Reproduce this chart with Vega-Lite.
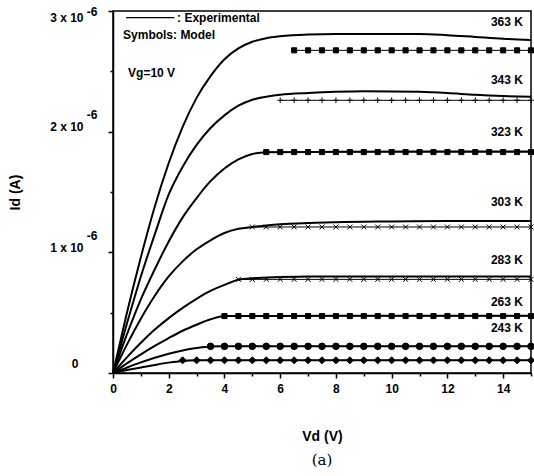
{
  "$schema": "https://vega.github.io/schema/vega-lite/v6.json",
  "width": 418,
  "height": 362,
  "autosize": {"type": "none"},
  "padding": {"left": 113, "top": 11, "right": 3, "bottom": 103},
  "background": "white",
  "config": {
    "view": {"stroke": "black", "strokeWidth": 1.5},
    "font": "Liberation Sans"
  },
  "title": {"text": "(a)", "orient": "bottom", "font": "DejaVu Serif", "fontSize": 15, "fontWeight": "normal", "color": "black", "offset": 10},
  "resolve": {"axis": {"y": "independent"}},
  "encoding": {
    "x": {
      "field": "Vd", "type": "quantitative",
      "scale": {"domain": [0, 15], "nice": false, "zero": false},
      "axis": {
        "title": "Vd (V)", "titleFont": "Liberation Sans", "titleFontSize": 14, "titleFontWeight": "bold", "titleColor": "black", "titlePadding": 35,
        "values": [0,1,2,3,4,5,6,7,8,9,10,11,12,13,14,15],
        "labelExpr": "datum.value % 2 == 0 ? datum.label : ''",
        "labelFont": "Liberation Sans", "labelFontSize": 12, "labelFontWeight": "bold", "labelColor": "black", "labelPadding": 5,
        "tickSize": {"condition": {"test": "datum.value % 2 == 1", "value": 3}, "value": 5},
        "tickColor": "black", "tickWidth": 1.5, "domainColor": "black", "domainWidth": 1.5, "grid": false, "labelFlush": false
      }
    }
  },
  "layer": [
    {
      "data": {"values": [{"Vd": 0.47, "Vd2": 2.2, "Id": 2.945}]},
      "mark": {"type": "rule", "color": "black", "strokeWidth": 1.3},
      "encoding": {
        "x2": {"field": "Vd2"},
        "y": {"field": "Id", "type": "quantitative", "scale": {"domain": [0, 3], "nice": false}, "axis": null}
      }
    },
    {
      "data": {"values": [
        {"Vd": 2.3, "Id": 2.94, "label": ": Experimental"},
        {"Vd": 0.36, "Id": 2.8, "label": "Symbols: Model"},
        {"Vd": 0.54, "Id": 2.49, "label": "Vg=10 V"}
      ]},
      "mark": {"type": "text", "align": "left", "baseline": "middle", "font": "Liberation Sans", "fontSize": 12, "fontWeight": "bold", "color": "black"},
      "encoding": {
        "text": {"field": "label"},
        "y": {"field": "Id", "type": "quantitative", "scale": {"domain": [0, 3], "nice": false}, "axis": null}
      }
    },
    {
      "data": {"values": [
        {"Vd": 14.71, "Id": 2.908, "label": "363 K"},
        {"Vd": 14.71, "Id": 2.425, "label": "343 K"},
        {"Vd": 14.71, "Id": 2.0, "label": "323 K"},
        {"Vd": 14.71, "Id": 1.417, "label": "303 K"},
        {"Vd": 14.71, "Id": 0.934, "label": "283 K"},
        {"Vd": 14.71, "Id": 0.588, "label": "263 K"},
        {"Vd": 14.71, "Id": 0.37, "label": "243 K"}
      ]},
      "mark": {"type": "text", "align": "right", "baseline": "middle", "font": "Liberation Sans", "fontSize": 12, "fontWeight": "bold", "color": "black"},
      "encoding": {
        "text": {"field": "label"},
        "y": {"field": "Id", "type": "quantitative", "scale": {"domain": [0, 3], "nice": false},
          "axis": {
            "orient": "left", "title": null, "domain": false, "ticks": false, "tickSize": 0, "grid": false,
            "values": [0, 1, 2, 3],
            "labelExpr": "datum.value == 0 ? '' : '-6'",
            "labelFont": "Liberation Sans", "labelFontSize": 12, "labelFontWeight": "bold", "labelColor": "black",
            "labelAlign": "right", "labelBaseline": "middle", "labelPadding": 16,
            "labelOffset": {"condition": {"test": "datum.value >= 3", "value": 0}, "value": -17},
            "labelFlush": false
          }
        }
      }
    },
    {
      "data": {"values": [
        {"T":363,"Vd":0,"Id":0},{"T":363,"Vd":0.5,"Id":0.5},{"T":363,"Vd":1,"Id":0.96},{"T":363,"Vd":1.5,"Id":1.38},{"T":363,"Vd":2,"Id":1.74},{"T":363,"Vd":2.5,"Id":2.04},{"T":363,"Vd":3,"Id":2.28},{"T":363,"Vd":3.5,"Id":2.46},{"T":363,"Vd":4,"Id":2.6},{"T":363,"Vd":4.5,"Id":2.69},{"T":363,"Vd":5,"Id":2.745},{"T":363,"Vd":5.5,"Id":2.775},{"T":363,"Vd":6,"Id":2.79},{"T":363,"Vd":7,"Id":2.805},{"T":363,"Vd":8,"Id":2.81},{"T":363,"Vd":10,"Id":2.81},{"T":363,"Vd":11,"Id":2.81},{"T":363,"Vd":12,"Id":2.8},{"T":363,"Vd":13,"Id":2.785},{"T":363,"Vd":14,"Id":2.77},{"T":363,"Vd":15,"Id":2.76},
        {"T":343,"Vd":0,"Id":0},{"T":343,"Vd":0.5,"Id":0.41},{"T":343,"Vd":1,"Id":0.8},{"T":343,"Vd":1.5,"Id":1.15},{"T":343,"Vd":2,"Id":1.48},{"T":343,"Vd":2.5,"Id":1.71},{"T":343,"Vd":3,"Id":1.89},{"T":343,"Vd":3.5,"Id":2.03},{"T":343,"Vd":4,"Id":2.135},{"T":343,"Vd":4.5,"Id":2.215},{"T":343,"Vd":5,"Id":2.265},{"T":343,"Vd":5.5,"Id":2.29},{"T":343,"Vd":6,"Id":2.305},{"T":343,"Vd":7,"Id":2.32},{"T":343,"Vd":8,"Id":2.33},{"T":343,"Vd":9,"Id":2.335},{"T":343,"Vd":11,"Id":2.33},{"T":343,"Vd":12,"Id":2.32},{"T":343,"Vd":13,"Id":2.305},{"T":343,"Vd":14,"Id":2.295},{"T":343,"Vd":15,"Id":2.29},
        {"T":323,"Vd":0,"Id":0},{"T":323,"Vd":0.5,"Id":0.32},{"T":323,"Vd":1,"Id":0.61},{"T":323,"Vd":1.5,"Id":0.86},{"T":323,"Vd":2,"Id":1.09},{"T":323,"Vd":2.5,"Id":1.29},{"T":323,"Vd":3,"Id":1.45},{"T":323,"Vd":3.5,"Id":1.59},{"T":323,"Vd":4,"Id":1.695},{"T":323,"Vd":4.5,"Id":1.77},{"T":323,"Vd":5,"Id":1.815},{"T":323,"Vd":5.5,"Id":1.83},{"T":323,"Vd":8,"Id":1.833},{"T":323,"Vd":11,"Id":1.835},{"T":323,"Vd":15,"Id":1.835},
        {"T":303,"Vd":0,"Id":0},{"T":303,"Vd":0.5,"Id":0.235},{"T":303,"Vd":1,"Id":0.45},{"T":303,"Vd":1.5,"Id":0.64},{"T":303,"Vd":2,"Id":0.8},{"T":303,"Vd":2.5,"Id":0.925},{"T":303,"Vd":3,"Id":1.025},{"T":303,"Vd":3.5,"Id":1.1},{"T":303,"Vd":4,"Id":1.16},{"T":303,"Vd":4.5,"Id":1.195},{"T":303,"Vd":5,"Id":1.21},{"T":303,"Vd":5.5,"Id":1.222},{"T":303,"Vd":6,"Id":1.232},{"T":303,"Vd":7,"Id":1.243},{"T":303,"Vd":8,"Id":1.25},{"T":303,"Vd":10,"Id":1.256},{"T":303,"Vd":12,"Id":1.26},{"T":303,"Vd":15,"Id":1.26},
        {"T":283,"Vd":0,"Id":0},{"T":283,"Vd":0.5,"Id":0.13},{"T":283,"Vd":1,"Id":0.25},{"T":283,"Vd":1.5,"Id":0.36},{"T":283,"Vd":2,"Id":0.455},{"T":283,"Vd":2.5,"Id":0.54},{"T":283,"Vd":3,"Id":0.615},{"T":283,"Vd":3.5,"Id":0.68},{"T":283,"Vd":4,"Id":0.73},{"T":283,"Vd":4.5,"Id":0.772},{"T":283,"Vd":5,"Id":0.785},{"T":283,"Vd":6,"Id":0.795},{"T":283,"Vd":7,"Id":0.8},{"T":283,"Vd":11,"Id":0.8},{"T":283,"Vd":15,"Id":0.8},
        {"T":263,"Vd":0,"Id":0},{"T":263,"Vd":0.5,"Id":0.08},{"T":263,"Vd":1,"Id":0.155},{"T":263,"Vd":1.5,"Id":0.225},{"T":263,"Vd":2,"Id":0.29},{"T":263,"Vd":2.5,"Id":0.35},{"T":263,"Vd":3,"Id":0.4},{"T":263,"Vd":3.5,"Id":0.445},{"T":263,"Vd":4,"Id":0.472},{"T":263,"Vd":8,"Id":0.474},{"T":263,"Vd":15,"Id":0.475},
        {"T":243,"Vd":0,"Id":0},{"T":243,"Vd":0.5,"Id":0.045},{"T":243,"Vd":1,"Id":0.088},{"T":243,"Vd":1.5,"Id":0.127},{"T":243,"Vd":2,"Id":0.16},{"T":243,"Vd":2.5,"Id":0.187},{"T":243,"Vd":3,"Id":0.207},{"T":243,"Vd":3.5,"Id":0.22},{"T":243,"Vd":4,"Id":0.222},{"T":243,"Vd":8,"Id":0.222},{"T":243,"Vd":15,"Id":0.222},
        {"T":223,"Vd":0,"Id":0},{"T":223,"Vd":0.5,"Id":0.024},{"T":223,"Vd":1,"Id":0.046},{"T":223,"Vd":1.5,"Id":0.067},{"T":223,"Vd":2,"Id":0.086},{"T":223,"Vd":2.5,"Id":0.1},{"T":223,"Vd":3,"Id":0.105},{"T":223,"Vd":8,"Id":0.105},{"T":223,"Vd":15,"Id":0.105}
      ]},
      "mark": {"type": "line", "color": "black", "strokeWidth": 2, "interpolate": "monotone"},
      "encoding": {
        "detail": {"field": "T", "type": "nominal"},
        "y": {"field": "Id", "type": "quantitative", "scale": {"domain": [0, 3], "nice": false},
          "axis": {
            "orient": "left",
            "title": "Id (A)", "titleFont": "Liberation Sans", "titleFontSize": 14, "titleFontWeight": "bold", "titleColor": "black", "titlePadding": 27,
            "values": [0, 0.5, 1, 1.5, 2, 2.5, 3],
            "labelExpr": "datum.value == 0 ? '0' : (datum.value % 1 == 0 ? datum.value + ' x 10' : '')",
            "labelFont": "Liberation Sans", "labelFontSize": 12, "labelFontWeight": "bold", "labelColor": "black",
            "labelAlign": "right", "labelBaseline": "middle",
            "labelPadding": {"condition": {"test": "datum.value == 0", "value": 30}, "value": 25},
            "labelOffset": {"condition": [{"test": "datum.value >= 3", "value": 6}, {"test": "datum.value == 0", "value": -10}], "value": -5},
            "tickSize": {"condition": {"test": "datum.value % 1 != 0", "value": 3}, "value": 5},
            "tickColor": "black", "tickWidth": 1.5, "domainColor": "black", "domainWidth": 1.5, "grid": false, "labelFlush": false
          }
        }
      }
    },
    {
      "data": {"name": "model", "values": [
        {"T":363,"sym":"square","Vd":6.5,"Id":2.674},{"T":363,"sym":"square","Vd":7,"Id":2.674},{"T":363,"sym":"square","Vd":7.5,"Id":2.674},{"T":363,"sym":"square","Vd":8,"Id":2.674},{"T":363,"sym":"square","Vd":8.5,"Id":2.674},{"T":363,"sym":"square","Vd":9,"Id":2.674},{"T":363,"sym":"square","Vd":9.5,"Id":2.674},{"T":363,"sym":"square","Vd":10,"Id":2.674},{"T":363,"sym":"square","Vd":10.5,"Id":2.674},{"T":363,"sym":"square","Vd":11,"Id":2.674},{"T":363,"sym":"square","Vd":11.5,"Id":2.674},{"T":363,"sym":"square","Vd":12,"Id":2.674},{"T":363,"sym":"square","Vd":12.5,"Id":2.674},{"T":363,"sym":"square","Vd":13,"Id":2.674},{"T":363,"sym":"square","Vd":13.5,"Id":2.674},{"T":363,"sym":"square","Vd":14,"Id":2.674},{"T":363,"sym":"square","Vd":14.5,"Id":2.674},{"T":363,"sym":"square","Vd":15,"Id":2.674},
        {"T":343,"sym":"plus","Vd":6,"Id":2.26},{"T":343,"sym":"plus","Vd":6.5,"Id":2.26},{"T":343,"sym":"plus","Vd":7,"Id":2.26},{"T":343,"sym":"plus","Vd":7.5,"Id":2.26},{"T":343,"sym":"plus","Vd":8,"Id":2.26},{"T":343,"sym":"plus","Vd":8.5,"Id":2.26},{"T":343,"sym":"plus","Vd":9,"Id":2.26},{"T":343,"sym":"plus","Vd":9.5,"Id":2.26},{"T":343,"sym":"plus","Vd":10,"Id":2.26},{"T":343,"sym":"plus","Vd":10.5,"Id":2.26},{"T":343,"sym":"plus","Vd":11,"Id":2.26},{"T":343,"sym":"plus","Vd":11.5,"Id":2.26},{"T":343,"sym":"plus","Vd":12,"Id":2.26},{"T":343,"sym":"plus","Vd":12.5,"Id":2.26},{"T":343,"sym":"plus","Vd":13,"Id":2.26},{"T":343,"sym":"plus","Vd":13.5,"Id":2.26},{"T":343,"sym":"plus","Vd":14,"Id":2.26},{"T":343,"sym":"plus","Vd":14.5,"Id":2.26},{"T":343,"sym":"plus","Vd":15,"Id":2.26},
        {"T":323,"sym":"square","Vd":5.5,"Id":1.831},{"T":323,"sym":"square","Vd":6,"Id":1.831},{"T":323,"sym":"square","Vd":6.5,"Id":1.831},{"T":323,"sym":"square","Vd":7,"Id":1.831},{"T":323,"sym":"square","Vd":7.5,"Id":1.831},{"T":323,"sym":"square","Vd":8,"Id":1.831},{"T":323,"sym":"square","Vd":8.5,"Id":1.831},{"T":323,"sym":"square","Vd":9,"Id":1.831},{"T":323,"sym":"square","Vd":9.5,"Id":1.831},{"T":323,"sym":"square","Vd":10,"Id":1.831},{"T":323,"sym":"square","Vd":10.5,"Id":1.831},{"T":323,"sym":"square","Vd":11,"Id":1.831},{"T":323,"sym":"square","Vd":11.5,"Id":1.831},{"T":323,"sym":"square","Vd":12,"Id":1.831},{"T":323,"sym":"square","Vd":12.5,"Id":1.831},{"T":323,"sym":"square","Vd":13,"Id":1.831},{"T":323,"sym":"square","Vd":13.5,"Id":1.831},{"T":323,"sym":"square","Vd":14,"Id":1.831},{"T":323,"sym":"square","Vd":14.5,"Id":1.831},{"T":323,"sym":"square","Vd":15,"Id":1.831},
        {"T":303,"sym":"x","Vd":5,"Id":1.21},{"T":303,"sym":"x","Vd":5.5,"Id":1.21},{"T":303,"sym":"x","Vd":6,"Id":1.21},{"T":303,"sym":"x","Vd":6.5,"Id":1.21},{"T":303,"sym":"x","Vd":7,"Id":1.21},{"T":303,"sym":"x","Vd":7.5,"Id":1.21},{"T":303,"sym":"x","Vd":8,"Id":1.21},{"T":303,"sym":"x","Vd":8.5,"Id":1.21},{"T":303,"sym":"x","Vd":9,"Id":1.21},{"T":303,"sym":"x","Vd":9.5,"Id":1.21},{"T":303,"sym":"x","Vd":10,"Id":1.21},{"T":303,"sym":"x","Vd":10.5,"Id":1.21},{"T":303,"sym":"x","Vd":11,"Id":1.21},{"T":303,"sym":"x","Vd":11.5,"Id":1.21},{"T":303,"sym":"x","Vd":12,"Id":1.21},{"T":303,"sym":"x","Vd":12.5,"Id":1.21},{"T":303,"sym":"x","Vd":13,"Id":1.21},{"T":303,"sym":"x","Vd":13.5,"Id":1.21},{"T":303,"sym":"x","Vd":14,"Id":1.21},{"T":303,"sym":"x","Vd":14.5,"Id":1.21},{"T":303,"sym":"x","Vd":15,"Id":1.21},
        {"T":283,"sym":"x","Vd":4.5,"Id":0.776},{"T":283,"sym":"x","Vd":5,"Id":0.776},{"T":283,"sym":"x","Vd":5.5,"Id":0.776},{"T":283,"sym":"x","Vd":6,"Id":0.776},{"T":283,"sym":"x","Vd":6.5,"Id":0.776},{"T":283,"sym":"x","Vd":7,"Id":0.776},{"T":283,"sym":"x","Vd":7.5,"Id":0.776},{"T":283,"sym":"x","Vd":8,"Id":0.776},{"T":283,"sym":"x","Vd":8.5,"Id":0.776},{"T":283,"sym":"x","Vd":9,"Id":0.776},{"T":283,"sym":"x","Vd":9.5,"Id":0.776},{"T":283,"sym":"x","Vd":10,"Id":0.776},{"T":283,"sym":"x","Vd":10.5,"Id":0.776},{"T":283,"sym":"x","Vd":11,"Id":0.776},{"T":283,"sym":"x","Vd":11.5,"Id":0.776},{"T":283,"sym":"x","Vd":12,"Id":0.776},{"T":283,"sym":"x","Vd":12.5,"Id":0.776},{"T":283,"sym":"x","Vd":13,"Id":0.776},{"T":283,"sym":"x","Vd":13.5,"Id":0.776},{"T":283,"sym":"x","Vd":14,"Id":0.776},{"T":283,"sym":"x","Vd":14.5,"Id":0.776},{"T":283,"sym":"x","Vd":15,"Id":0.776},
        {"T":263,"sym":"square","Vd":4,"Id":0.472},{"T":263,"sym":"square","Vd":4.5,"Id":0.472},{"T":263,"sym":"square","Vd":5,"Id":0.472},{"T":263,"sym":"square","Vd":5.5,"Id":0.472},{"T":263,"sym":"square","Vd":6,"Id":0.472},{"T":263,"sym":"square","Vd":6.5,"Id":0.472},{"T":263,"sym":"square","Vd":7,"Id":0.472},{"T":263,"sym":"square","Vd":7.5,"Id":0.472},{"T":263,"sym":"square","Vd":8,"Id":0.472},{"T":263,"sym":"square","Vd":8.5,"Id":0.472},{"T":263,"sym":"square","Vd":9,"Id":0.472},{"T":263,"sym":"square","Vd":9.5,"Id":0.472},{"T":263,"sym":"square","Vd":10,"Id":0.472},{"T":263,"sym":"square","Vd":10.5,"Id":0.472},{"T":263,"sym":"square","Vd":11,"Id":0.472},{"T":263,"sym":"square","Vd":11.5,"Id":0.472},{"T":263,"sym":"square","Vd":12,"Id":0.472},{"T":263,"sym":"square","Vd":12.5,"Id":0.472},{"T":263,"sym":"square","Vd":13,"Id":0.472},{"T":263,"sym":"square","Vd":13.5,"Id":0.472},{"T":263,"sym":"square","Vd":14,"Id":0.472},{"T":263,"sym":"square","Vd":14.5,"Id":0.472},{"T":263,"sym":"square","Vd":15,"Id":0.472},
        {"T":243,"sym":"dot","Vd":3.5,"Id":0.221},{"T":243,"sym":"dot","Vd":4,"Id":0.221},{"T":243,"sym":"dot","Vd":4.5,"Id":0.221},{"T":243,"sym":"dot","Vd":5,"Id":0.221},{"T":243,"sym":"dot","Vd":5.5,"Id":0.221},{"T":243,"sym":"dot","Vd":6,"Id":0.221},{"T":243,"sym":"dot","Vd":6.5,"Id":0.221},{"T":243,"sym":"dot","Vd":7,"Id":0.221},{"T":243,"sym":"dot","Vd":7.5,"Id":0.221},{"T":243,"sym":"dot","Vd":8,"Id":0.221},{"T":243,"sym":"dot","Vd":8.5,"Id":0.221},{"T":243,"sym":"dot","Vd":9,"Id":0.221},{"T":243,"sym":"dot","Vd":9.5,"Id":0.221},{"T":243,"sym":"dot","Vd":10,"Id":0.221},{"T":243,"sym":"dot","Vd":10.5,"Id":0.221},{"T":243,"sym":"dot","Vd":11,"Id":0.221},{"T":243,"sym":"dot","Vd":11.5,"Id":0.221},{"T":243,"sym":"dot","Vd":12,"Id":0.221},{"T":243,"sym":"dot","Vd":12.5,"Id":0.221},{"T":243,"sym":"dot","Vd":13,"Id":0.221},{"T":243,"sym":"dot","Vd":13.5,"Id":0.221},{"T":243,"sym":"dot","Vd":14,"Id":0.221},{"T":243,"sym":"dot","Vd":14.5,"Id":0.221},{"T":243,"sym":"dot","Vd":15,"Id":0.221},
        {"T":223,"sym":"diamond","Vd":2.5,"Id":0.105},{"T":223,"sym":"diamond","Vd":3,"Id":0.105},{"T":223,"sym":"diamond","Vd":3.5,"Id":0.105},{"T":223,"sym":"diamond","Vd":4,"Id":0.105},{"T":223,"sym":"diamond","Vd":4.5,"Id":0.105},{"T":223,"sym":"diamond","Vd":5,"Id":0.105},{"T":223,"sym":"diamond","Vd":5.5,"Id":0.105},{"T":223,"sym":"diamond","Vd":6,"Id":0.105},{"T":223,"sym":"diamond","Vd":6.5,"Id":0.105},{"T":223,"sym":"diamond","Vd":7,"Id":0.105},{"T":223,"sym":"diamond","Vd":7.5,"Id":0.105},{"T":223,"sym":"diamond","Vd":8,"Id":0.105},{"T":223,"sym":"diamond","Vd":8.5,"Id":0.105},{"T":223,"sym":"diamond","Vd":9,"Id":0.105},{"T":223,"sym":"diamond","Vd":9.5,"Id":0.105},{"T":223,"sym":"diamond","Vd":10,"Id":0.105},{"T":223,"sym":"diamond","Vd":10.5,"Id":0.105},{"T":223,"sym":"diamond","Vd":11,"Id":0.105},{"T":223,"sym":"diamond","Vd":11.5,"Id":0.105},{"T":223,"sym":"diamond","Vd":12,"Id":0.105},{"T":223,"sym":"diamond","Vd":12.5,"Id":0.105},{"T":223,"sym":"diamond","Vd":13,"Id":0.105},{"T":223,"sym":"diamond","Vd":13.5,"Id":0.105},{"T":223,"sym":"diamond","Vd":14,"Id":0.105},{"T":223,"sym":"diamond","Vd":14.5,"Id":0.105},{"T":223,"sym":"diamond","Vd":15,"Id":0.105}
      ]},
      "encoding": {
        "y": {"field": "Id", "type": "quantitative", "scale": {"domain": [0, 3], "nice": false}, "axis": null}
      },
      "layer": [
        {
          "mark": {"type": "line", "color": "black", "strokeWidth": 1},
          "encoding": {"detail": {"field": "T", "type": "nominal"}}
        },
        {
          "mark": {"type": "point", "filled": true, "fill": "black", "stroke": "black", "strokeWidth": 1, "opacity": 1},
          "encoding": {
            "shape": {"field": "sym", "type": "nominal", "legend": null,
              "scale": {"domain": ["square", "plus", "x", "dot", "diamond"],
                        "range": ["square", "M-1,0L1,0M0,-1L0,1", "M-0.8,-0.8L0.8,0.8M-0.8,0.8L0.8,-0.8", "circle", "diamond"]}},
            "size": {"field": "sym", "type": "nominal", "legend": null,
              "scale": {"domain": ["square", "plus", "x", "dot", "diamond"], "range": [26, 50, 40, 8, 32]}}
          }
        }
      ]
    }
  ]
}
